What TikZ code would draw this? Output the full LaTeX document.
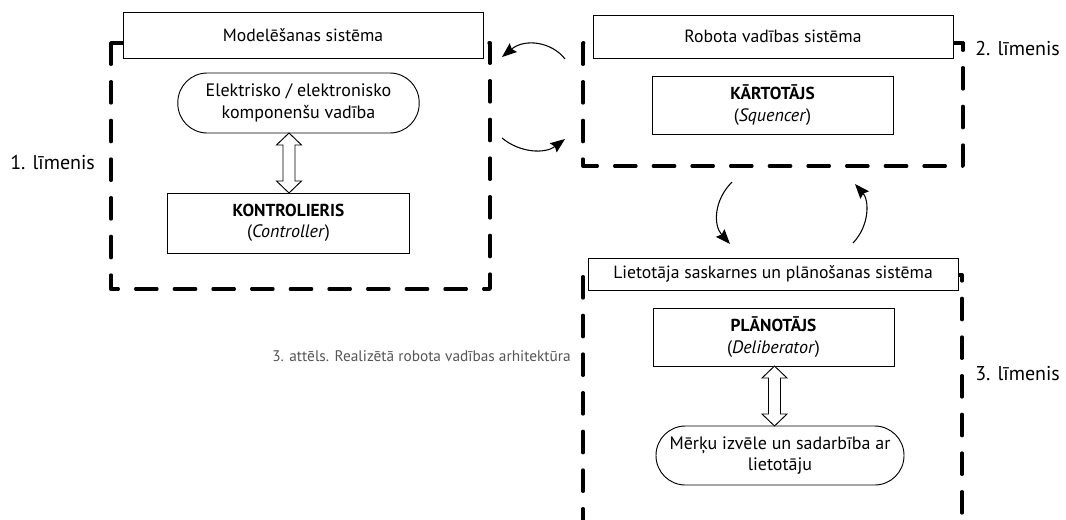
\documentclass[tikz,border=0pt]{standalone}
\usepackage{fontspec}
\setmainfont{PT Sans}
\usetikzlibrary{arrows.meta,calc}
\definecolor{captiongrey}{HTML}{555555}
\begin{document}
\begin{tikzpicture}[x=0.75pt,y=-0.75pt,
  frame/.style={line width=2.5pt, dash pattern=on 16pt off 13pt, line cap=round, line join=round},
  titlebox/.style={draw, fill=white, line width=0.7pt, inner sep=0pt, font=\fontsize{13.25}{15.5}\selectfont},
  mainbox/.style={draw, line width=0.7pt, inner sep=0pt, align=center, font=\fontsize{13.5}{16}\selectfont},
  roundbox/.style={mainbox, rounded corners=22pt},
  level/.style={inner sep=0pt, anchor=west, font=\fontsize{15}{17}\selectfont},
  flow/.style={line width=0.8pt, -{Stealth[length=11pt,width=8.5pt,inset=1.5pt]}},
  dblarrow/.style={draw, line width=0.7pt, fill=white, line join=miter}
]
\useasboundingbox (0,0) rectangle (1066,519);

% dashed frames
\coordinate (f1tl) at (111,43);
\coordinate (f1br) at (490,289);
\draw[frame] (f1tl) -- (f1tl |- f1br) -- (f1br) -- (f1br |- f1tl) -- cycle;
\coordinate (f2tl) at (583,43);
\coordinate (f2br) at (963,166);
\draw[frame] (f2tl) -- (f2tl |- f2br) -- (f2br) -- (f2br |- f2tl) -- cycle;
\coordinate (f3tl) at (583,275);
\coordinate (f3tr) at (962,275);
\draw[frame] (583,530) -- (f3tl) -- (f3tr) -- (962,530);

% level 1
\node[titlebox, minimum width=270pt, minimum height=34pt] (t1) at (303,35.5) {Modelēšanas sistēma};
\node[roundbox, minimum width=181pt, minimum height=45pt] (elec) at (298.5,103) {Elektrisko / elektronisko\\komponenšu vadība};
\node[mainbox, minimum width=181pt, minimum height=45pt] (ctrl) at (288.5,223) {{\fontsize{13}{16}\selectfont\textbf{KONTROLIERIS}}\\(\textit{Controller})};

% level 2
\node[titlebox, minimum width=270pt, minimum height=32.25pt] (t2) at (773,36.5) {Robota vadības sistēma};
\node[mainbox, minimum width=180.75pt, minimum height=43.5pt] (seq) at (772.5,105) {{\fontsize{13}{16}\selectfont\textbf{KĀRTOTĀJS}}\\(\textit{Squencer})};

% level 3
\node[titlebox, minimum width=277.5pt, minimum height=24pt] (t3) at (773,274) {Lietotāja saskarnes un plānošanas sistēma};
\node[mainbox, minimum width=180.75pt, minimum height=43.5pt] (plan) at (773.5,337) {{\fontsize{13}{16}\selectfont\textbf{PLĀNOTĀJS}}\\(\textit{Deliberator})};
\node[roundbox, minimum width=186pt, minimum height=44.25pt] (goal) at (780,455.5) {Mērķu izvēle un sadarbība ar\\lietotāju};

% double arrows
\coordinate (a1b) at (289,193);
\coordinate (a1t) at (289,133);
\draw[dblarrow] (a1t) -- ++(12.5,12) -- ++(-6.5,0) -- ($(a1b)+(6,-12)$) -- ++(6.5,0) -- (a1b)
  -- ++(-12.5,-12) -- ++(6.5,0) -- ($(a1t)+(-6,12)$) -- ++(-6.5,0) -- cycle;
\coordinate (a2t) at (774.5,366);
\coordinate (a2b) at (774.5,426);
\draw[dblarrow] (a2t) -- ++(12.5,12) -- ++(-6.5,0) -- ($(a2b)+(6,-12)$) -- ++(6.5,0) -- (a2b)
  -- ++(-12.5,-12) -- ++(6.5,0) -- ($(a2t)+(-6,12)$) -- ++(-6.5,0) -- cycle;

% curved arrows between levels
\coordinate (c1s) at (565,59);
\coordinate (c1e) at (502,57);
\draw[flow] (c1s) .. controls (552,42) and (525,38) .. (c1e);
\coordinate (c2s) at (502,138);
\coordinate (c2e) at (565,139);
\draw[flow] (c2s) .. controls (520,153) and (545,154) .. (c2e);
\coordinate (c3s) at (732,182);
\coordinate (c3e) at (730,244);
\draw[flow] (c3s) .. controls (714,200) and (713,225) .. (c3e);
\coordinate (c4s) at (853,243);
\coordinate (c4e) at (855,184);
\draw[flow] (c4s) .. controls (870,225) and (869,200) .. (c4e);

% level labels
\node[level] (l1) at (10,162) {1. līmenis};
\node[level] (l2) at (975,48) {2. līmenis};
\node[level] (l3) at (975,374) {3. līmenis};

% caption
\node[inner sep=0pt, anchor=west, text=captiongrey, font=\fontsize{11.5}{14}\selectfont] (cap) at (272,356) {3. attēls. Realizētā robota vadības arhitektūra};
\end{tikzpicture}
\end{document}
